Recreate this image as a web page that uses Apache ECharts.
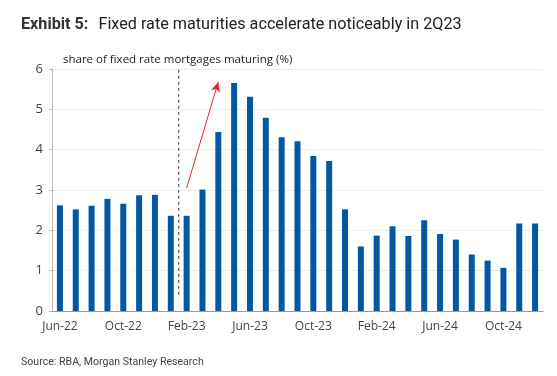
<!DOCTYPE html>
<html>
<head>
<meta charset="utf-8">
<script src="https://cdn.jsdelivr.net/npm/echarts@6/dist/echarts.min.js"></script>
<style>
  html, body { margin: 0; padding: 0; background: #fff; }
  #chart { width: 557px; height: 376px; }
</style>
</head>
<body>
<div id="chart"></div>
<script>
var months = [
  'Jun-22', 'Jul-22', 'Aug-22', 'Sep-22', 'Oct-22', 'Nov-22', 'Dec-22', 'Jan-23',
  'Feb-23', 'Mar-23', 'Apr-23', 'May-23', 'Jun-23', 'Jul-23', 'Aug-23', 'Sep-23',
  'Oct-23', 'Nov-23', 'Dec-23', 'Jan-24', 'Feb-24', 'Mar-24', 'Apr-24', 'May-24',
  'Jun-24', 'Jul-24', 'Aug-24', 'Sep-24', 'Oct-24', 'Nov-24', 'Dec-24'
];
var maturing = [
  2.62, 2.52, 2.61, 2.78, 2.66, 2.87, 2.88, 2.36,
  2.36, 3.01, 4.44, 5.65, 5.31, 4.79, 4.31, 4.21,
  3.84, 3.72, 2.52, 1.60, 1.87, 2.10, 1.86, 2.25,
  1.91, 1.77, 1.40, 1.25, 1.07, 2.17, 2.17
];
var yTicks = [0, 1, 2, 3, 4, 5, 6];
// dashed divider sits between these two months
var dividerBetween = ['Jan-23', 'Feb-23'];
var dividerRange = [0.4, 5.98];
// red arrow: start and end points
var arrowFrom = ['Feb-23', 3.05];
var arrowTo = ['Apr-23', 5.68];

var myChart = echarts.init(document.getElementById('chart'));

var option = {
  animation: false,
  title: [
    {
      text: '{b|Exhibit 5:}  {r|Fixed rate maturities accelerate noticeably in 2Q23}',
      left: 16,
      top: 11,
      textStyle: {
        fontWeight: 'normal',
        rich: {
          b: { fontFamily: 'Roboto', fontWeight: 'bold', fontSize: 16.2, color: '#333' },
          r: { fontFamily: 'Roboto', fontWeight: 'normal', fontSize: 16.2, color: '#222' }
        }
      }
    },
    {
      text: 'share of fixed rate mortgages maturing (%)',
      left: 58,
      top: 49,
      textStyle: { fontFamily: 'Open Sans', fontSize: 11.5, fontWeight: 'normal', color: '#222' }
    },
    {
      text: 'Source: RBA, Morgan Stanley Research',
      left: 16,
      top: 352,
      textStyle: { fontFamily: 'Roboto', fontSize: 10.6, fontWeight: 'normal', color: '#444' }
    }
  ],
  grid: { left: 52, right: 14, top: 69, bottom: 65 },
  xAxis: {
    type: 'category',
    data: months,
    boundaryGap: true,
    axisLine: { lineStyle: { color: '#999', width: 1 } },
    axisTick: { interval: 3, length: 4, lineStyle: { color: '#999' } },
    axisLabel: {
      interval: 3,
      fontFamily: 'Open Sans',
      fontSize: 12,
      color: '#444',
      margin: 10
    },
    splitLine: { show: false }
  },
  yAxis: {
    type: 'value',
    min: yTicks[0],
    max: yTicks[yTicks.length - 1],
    interval: 1,
    axisLine: { show: true, lineStyle: { color: '#bbb' } },
    axisTick: { show: true, length: 3, lineStyle: { color: '#bbb' } },
    axisLabel: { fontFamily: 'Open Sans', fontSize: 13, color: '#444', margin: 9 },
    splitLine: { lineStyle: { color: '#ececec', width: 1 } }
  },
  series: [
    {
      type: 'bar',
      data: maturing,
      barWidth: 6,
      itemStyle: { color: '#0457a3' },
      markLine: {
        silent: true,
        symbol: ['none', 'arrow'],
        symbolSize: [7, 10],
        label: { show: false },
        lineStyle: { color: '#e8262a', type: 'solid', width: 1 },
        data: [[{ coord: arrowFrom }, { coord: arrowTo }]]
      }
    }
  ]
};
myChart.setOption(option);

// dashed divider between two categories, placed through the chart's own scales
var pA = myChart.convertToPixel({ gridIndex: 0 }, [dividerBetween[0], dividerRange[0]]);
var pB = myChart.convertToPixel({ gridIndex: 0 }, [dividerBetween[1], dividerRange[1]]);
var xMid = (pA[0] + pB[0]) / 2;
myChart.setOption({
  graphic: [
    {
      type: 'line',
      shape: { x1: xMid, y1: pB[1], x2: xMid, y2: pA[1] },
      style: { stroke: '#555', lineWidth: 1.2, lineDash: [3, 3] },
      silent: true
    }
  ]
});
</script>
</body>
</html>
